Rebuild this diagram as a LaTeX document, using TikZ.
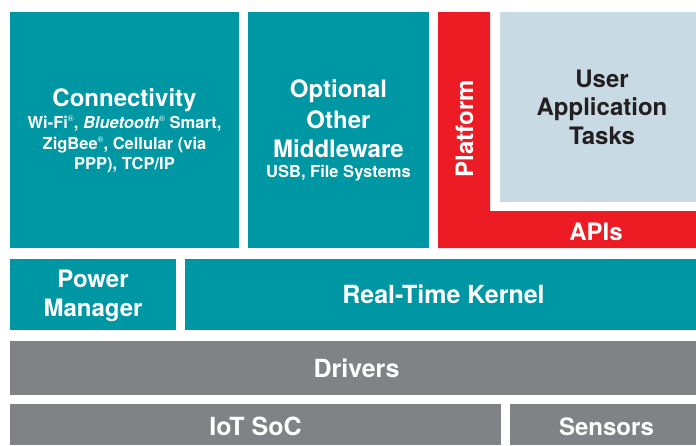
\documentclass[tikz,border=0pt]{standalone}
\usepackage{fontspec}
\setmainfont{TeX Gyre Heros}
\definecolor{iotteal}{HTML}{0097A4}
\definecolor{iotred}{HTML}{ED1C24}
\definecolor{iotgray}{HTML}{808285}
\definecolor{iotlight}{HTML}{C8DAE3}
\definecolor{iotdark}{HTML}{231F20}
\newcommand\iotbig{\fontsize{24}{29}\selectfont}
\newcommand\iotwide{\fontsize{25}{29}\selectfont}
\newcommand\iotsmall{\fontsize{16.5}{20.5}\selectfont}
\newcommand\iotreg{\raisebox{0.75ex}{\fontsize{8}{8}\selectfont\mdseries ®}}
\begin{document}
\begin{tikzpicture}[x=1pt,y=-1pt,
  blk/.style={draw=none,inner sep=0pt,outer sep=0pt,anchor=north west},
  tealbox/.style={blk,fill=iotteal},
  graybox/.style={blk,fill=iotgray},
  lbl/.style={inner sep=0pt,outer sep=0pt,anchor=base,text=white,font=\bfseries\iotbig},
  lblw/.style={lbl,font=\bfseries\iotwide},
]
\useasboundingbox[fill=white] (0,0) rectangle (696,445);
% top row
\node[tealbox,minimum width=229pt,minimum height=236pt] (connbox) at (10,12) {};
\node[tealbox,minimum width=181pt,minimum height=236pt] (midbox) at (248,12) {};
\fill[iotred] (438,12) -- (490,12) -- (490,211) -- (696,211) -- (696,248) -- (438,248) -- cycle;
\node[blk,fill=iotlight,minimum width=196pt,minimum height=190pt] (userbox) at (500,12) {};
% middle rows
\node[tealbox,minimum width=166pt,minimum height=71pt] (pmbox) at (10,259) {};
\node[tealbox,minimum width=511pt,minimum height=71pt] (rtkbox) at (185,259) {};
\node[graybox,minimum width=686pt,minimum height=54pt] (drvbox) at (10,341) {};
\node[graybox,minimum width=491pt,minimum height=41pt] (socbox) at (10,404) {};
\node[graybox,minimum width=186pt,minimum height=41pt] (senbox) at (510,404) {};
% labels
\node[lbl,font=\bfseries\iotsmall] (conn) at (124.5,106) {\begin{tabular}[t]{@{}c@{}}\iotbig Connectivity\\[1.5pt]
  Wi-Fi\iotreg, \textit{Bluetooth}\iotreg\ Smart,\\[0.5pt]
  ZigBee\iotreg, Cellular (via\\[-0.5pt]
  PPP), TCP/IP\end{tabular}};
\node[lbl] (mid) at (338.5,97) {\begin{tabular}[t]{@{}c@{}}Optional\\[2pt]
  Other\\
  Middleware\\[-9pt]
  \iotsmall USB, File Systems\end{tabular}};
\node[lbl,text=iotdark] (user) at (602,87) {\begin{tabular}[t]{@{}c@{}}User\\[-1pt] Application\\ Tasks\end{tabular}};
\node[lbl,rotate=90] (plat) at (473,128.5) {Platform};
\node[lbl] (apis) at (596,240) {APIs};
\node[lbl] (pm) at (93,287) {\begin{tabular}[t]{@{}c@{}}Power\\ Manager\end{tabular}};
\node[lblw] (rtk) at (443.5,303) {Real-Time Kernel};
\node[lblw] (drv) at (356.5,377) {Drivers};
\node[lblw] (soc) at (255.5,435) {IoT SoC};
\node[lbl] (sen) at (606.5,435) {Sensors};
\end{tikzpicture}
\end{document}
